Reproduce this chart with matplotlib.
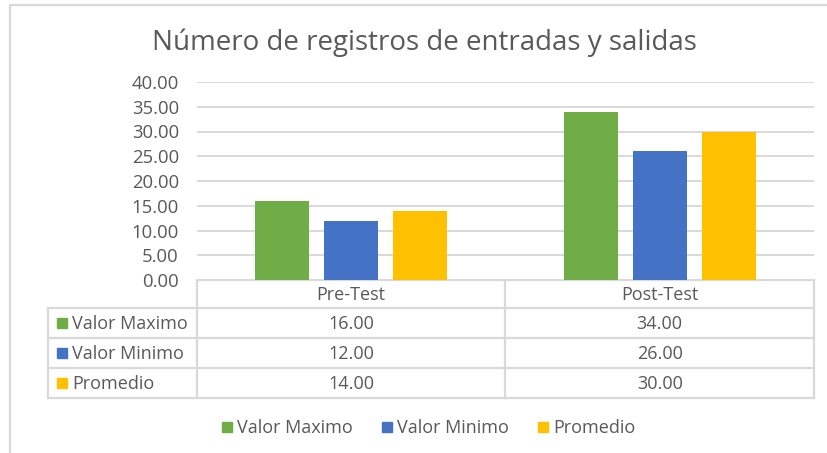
import numpy as np
import matplotlib
matplotlib.use("Agg")
import matplotlib.pyplot as plt
from matplotlib.patches import Rectangle

# data
categories = ["Pre-Test", "Post-Test"]
series = ["Valor Maximo", "Valor Minimo", "Promedio"]
valor_maximo = [16.0, 34.0]
valor_minimo = [12.0, 26.0]
promedio = [14.0, 30.0]
values = [valor_maximo, valor_minimo, promedio]
colors = ["#70AD47", "#4472C4", "#FFC000"]
yticks = [0, 5, 10, 15, 20, 25, 30, 35, 40]

plt.rcParams['font.family'] = ['Open Sans', 'DejaVu Sans']
txt = "#595959"
grid = "#D9D9D9"

W, H = 828, 453
fig = plt.figure(figsize=(W / 100, H / 100), dpi=100)

# overlay axes in pixel coordinates for frame, table and legend
ov = fig.add_axes([0, 0, 1, 1])
ov.set_xlim(0, W)
ov.set_ylim(H, 0)
ov.axis("off")

# plot area
x0, x1, ytop, ybot = 197, 814, 82, 280
ax = fig.add_axes([x0 / W, (H - ybot) / H, (x1 - x0) / W, (ybot - ytop) / H])
xs = np.arange(len(categories))
bw, off = 0.175, 0.223
for i, (name, vals) in enumerate(zip(series, values)):
    ax.bar(xs + (i - 1) * off, vals, width=bw, color=colors[i], zorder=3)
ax.set_xlim(-0.5, len(categories) - 0.5)
ax.set_ylim(0, 40)
ax.set_yticks(yticks)
ax.set_yticklabels([f"{v:.2f}" for v in yticks], color=txt, fontsize=13.3)
ax.tick_params(axis="y", length=0, pad=13)
ax.set_xticks([])
ax.grid(axis="y", color=grid, lw=1.4, zorder=0)
for s in ax.spines.values():
    s.set_visible(False)

# chart frame
ov.plot([10, 10, W], [H, 5, 5], color=grid, lw=1.6, solid_capstyle="butt")

# title
ov.text(424, 43, "Número de registros de entradas y salidas", ha="center",
        va="center", fontsize=20, color=txt)

# data table
lc = dict(color=grid, lw=1.6, solid_capstyle="projecting")
row_y = [280, 308, 338, 368, 398]
col_x = [48, 197, 505.5, 814]
ov.plot([197, 814], [280, 280], **lc)
for y in row_y[1:]:
    ov.plot([48, 814], [y, y], **lc)
ov.plot([48, 48], [308, 398], **lc)
for x in col_x[1:]:
    ov.plot([x, x], [280, 398], **lc)

fs = 13
for j, cat in enumerate(categories):
    cx = (col_x[j + 1] + col_x[j + 2]) / 2
    ov.text(cx, 295, cat, ha="center", va="center", fontsize=fs, color=txt)
    for i in range(len(series)):
        cy = (row_y[i + 1] + row_y[i + 2]) / 2
        ov.text(cx, cy + 1, f"{values[i][j]:.2f}", ha="center", va="center",
                fontsize=fs, color=txt)

for i, name in enumerate(series):
    cy = (row_y[i + 1] + row_y[i + 2]) / 2
    ov.add_patch(Rectangle((57, cy - 5), 10, 10, color=colors[i]))
    ov.text(72, cy + 1, name, ha="left", va="center", fontsize=fs, color=txt)

# legend
leg_x = [222, 382, 538]
for i, name in enumerate(series):
    ov.add_patch(Rectangle((leg_x[i], 422), 10, 10, color=colors[i]))
    ov.text(leg_x[i] + 15, 428, name, ha="left", va="center", fontsize=fs, color=txt)

fig.savefig("out.png", dpi=100)
